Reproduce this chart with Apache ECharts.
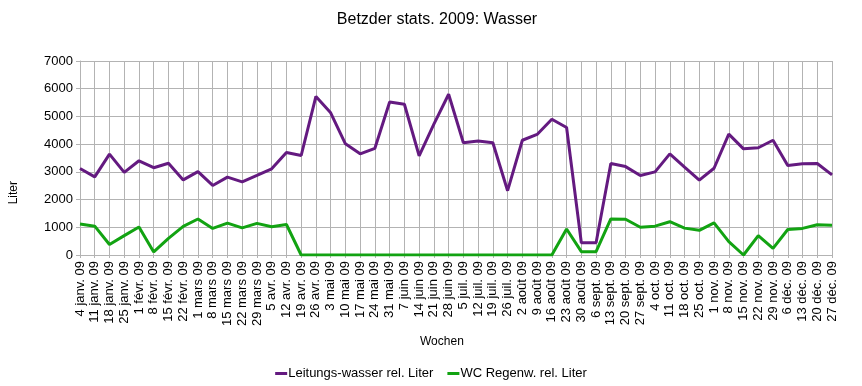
<!DOCTYPE html>
<html>
<head>
<meta charset="utf-8">
<script src="https://cdn.jsdelivr.net/npm/echarts@6/dist/echarts.min.js"></script>
<style>
html,body{margin:0;padding:0;background:#fff;}
#chart{width:862px;height:386px;}
</style>
</head>
<body>
<div id="chart"></div>
<script>
var weeks = ["4 janv. 09","11 janv. 09","18 janv. 09","25 janv. 09","1 févr. 09","8 févr. 09","15 févr. 09","22 févr. 09","1 mars 09","8 mars 09","15 mars 09","22 mars 09","29 mars 09","5 avr. 09","12 avr. 09","19 avr. 09","26 avr. 09","3 mai 09","10 mai 09","17 mai 09","24 mai 09","31 mai 09","7 juin 09","14 juin 09","21 juin 09","28 juin 09","5 juil. 09","12 juil. 09","19 juil. 09","26 juil. 09","2 août 09","9 août 09","16 août 09","23 août 09","30 août 09","6 sept. 09","13 sept. 09","20 sept. 09","27 sept. 09","4 oct. 09","11 oct. 09","18 oct. 09","25 oct. 09","1 nov. 09","8 nov. 09","15 nov. 09","22 nov. 09","29 nov. 09","6 déc. 09","13 déc. 09","20 déc. 09","27 déc. 09"];
var leitungswasser = [3120,2820,3640,2980,3400,3150,3310,2710,3010,2510,2810,2640,2870,3110,3700,3590,5720,5130,4010,3650,3850,5520,5440,3580,4720,5800,4050,4110,4050,2320,4140,4350,4900,4600,440,440,3300,3190,2870,3000,3650,3170,2700,3130,4360,3830,3870,4140,3230,3290,3300,2890];
var wcRegenwasser = [1120,1040,380,700,1010,110,600,1030,1300,960,1150,980,1140,1020,1100,0,0,0,0,0,0,0,0,0,0,0,0,0,0,0,0,0,0,940,120,120,1300,1290,1000,1040,1200,970,890,1160,480,0,700,240,920,960,1090,1070];
var seriesNames = ["Leitungs-wasser rel. Liter","WC Regenw. rel. Liter"];
var yTicks = {min:0, max:7000, interval:1000};

var chart = echarts.init(document.getElementById('chart'));
var font = 'Liberation Sans, Arial, sans-serif';
chart.setOption({
  animation:false,
  textStyle:{fontFamily:font},
  title:{text:'Betzder stats. 2009: Wasser', left:432, top:7, textAlign:'center',
    textStyle:{fontSize:16, fontWeight:'normal', color:'#000', fontFamily:font}},
  grid:{left:80, right:30, top:61, bottom:131, containLabel:false},
  legend:{bottom:1, left:'center', itemWidth:12, itemHeight:3, itemGap:14, icon:'rect',
    textStyle:{fontSize:13, color:'#000', fontFamily:font, padding:[0,0,0,-4]}},
  graphic:[
    {type:'text', left:8, top:181, rotation:Math.PI/2, style:{text:'Liter', font:'12px Liberation Sans, Arial', fill:'#000'}},
    {type:'text', left:420, top:336, style:{text:'Wochen', font:'12px Liberation Sans, Arial', fill:'#000'}}
  ],
  xAxis:{type:'category', data:weeks, boundaryGap:false,
    axisLine:{lineStyle:{color:'#b3b3b3'}},
    axisTick:{show:true, length:3, lineStyle:{color:'#b3b3b3'}},
    splitLine:{show:true, lineStyle:{color:'#b3b3b3'}},
    axisLabel:{rotate:90, interval:0, fontSize:13, color:'#000', margin:6, fontFamily:font}},
  yAxis:{type:'value', min:yTicks.min, max:yTicks.max, interval:yTicks.interval,
    axisLine:{show:true, lineStyle:{color:'#b3b3b3'}},
    axisTick:{show:true, length:4, lineStyle:{color:'#b3b3b3'}},
    splitLine:{show:true, lineStyle:{color:'#b3b3b3'}},
    axisLabel:{fontSize:13, color:'#000', margin:7, fontFamily:font, formatter:function(v){return String(v);}}},
  series:[
    {name:seriesNames[0], type:'line', data:leitungswasser, symbol:'none',
      lineStyle:{width:3, color:'#641a80'}, itemStyle:{color:'#641a80'}},
    {name:seriesNames[1], type:'line', data:wcRegenwasser, symbol:'none',
      lineStyle:{width:3, color:'#12a312'}, itemStyle:{color:'#12a312'}}
  ]
});
</script>
</body>
</html>
